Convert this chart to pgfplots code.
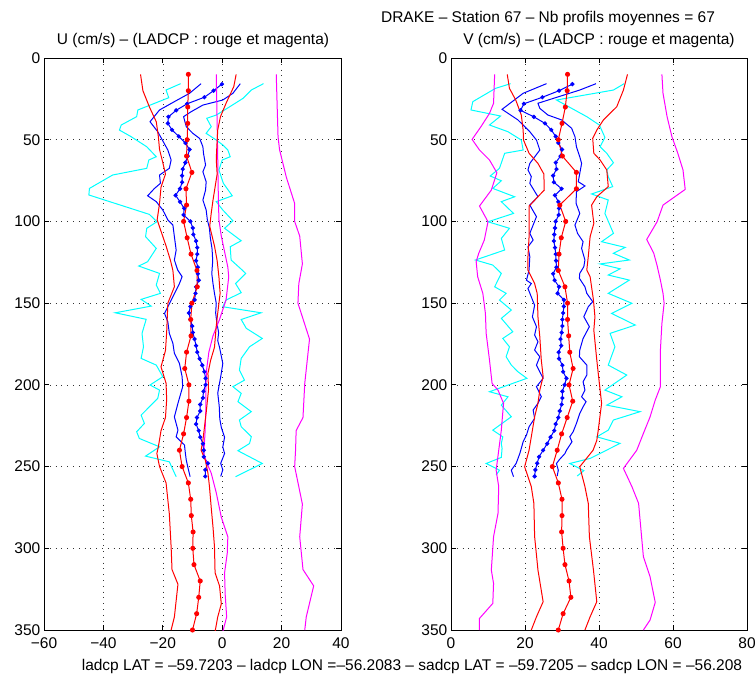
\documentclass[border=0pt]{standalone}
\usepackage{fontspec}
\setmainfont{Liberation Sans}
\usepackage{pgfplots}
\pgfplotsset{compat=1.18}
\definecolor{mred}{rgb}{1,0,0}
\definecolor{mblue}{rgb}{0,0,1}
\definecolor{mcyan}{rgb}{0,1,1}
\definecolor{mmag}{rgb}{1,0,1}
\newcommand{\fs}{\fontsize{15.5}{18}\selectfont}
\pgfplotsset{
  matlab/.style={
    scale only axis, height=572pt,
    y dir=reverse, ymin=0, ymax=350, ytick={0,50,...,350},
    grid=major,
    major grid style={black!80, line width=0.6pt, dash pattern=on 0.8pt off 5pt},
    tick align=inside, major tick length=5pt,
    xtick pos=both, ytick pos=both,
    xticklabel pos=bottom, yticklabel pos=left,
    tick style={black, line width=0.8pt},
    axis line style={black, line width=1pt},
    tick label style={font=\fs},
    yticklabel style={inner sep=0pt, xshift=-3.5pt},
    xticklabel style={inner sep=0pt, yshift=-7pt},
    /pgf/number format/assume math mode=true,
    every axis plot/.append style={line width=1pt},
    anchor=south west,
  },
  mean/.style={mark=*, mark size=2pt, mark options={solid}},
  bmean/.style={mark=*, mark size=1.6pt, mark options={solid}},
}
\begin{document}
\begin{tikzpicture}
\useasboundingbox (0,0) rectangle (755pt,681pt);
% ================= LEFT: U =================
\begin{axis}[matlab, at={(44pt,51pt)}, width=297pt,
  xmin=-60, xmax=40, xtick={-60,-40,-20,0,20,40},
  xticklabels={−60,−40,−20,0,20,40}]
% cyan
\addplot[mcyan] coordinates {(-14.0,15.7)(-18.9,19.6)(-18.0,24.3)(-28.4,31.8)(-28.8,35.9)(-34.0,41)(-34.6,44.1)(-30.7,48.1)(-25.4,54.3)(-22.2,60.4)(-24.7,62.4)(-25.4,67.5)(-36.9,71.6)(-44.7,79.8)(-44.9,83.8)(-24.5,95.7)(-22.0,100.2)(-25.4,104.2)(-25.8,109.3)(-22.2,116.5)(-25.1,124.6)(-28.1,127.3)(-21.1,131.8)(-22.2,138.9)(-20.8,144)(-27.3,147.7)(-23.9,151.8)(-36.0,155.9)(-25.6,159.9)(-27.0,168.5)(-26.5,176.7)(-27.3,183.8)(-22.2,187.9)(-20.0,195)(-24.3,200.1)(-21.1,203.2)(-21.7,208.3)(-27.3,218.5)(-26.2,223.6)(-28.8,228.7)(-27.9,232.8)(-21.1,237.9)(-25.8,243.6)(-17.8,247.1)(-15.5,256.2)};
\addplot[mcyan] coordinates {(13.9,15.7)(9.8,19.6)(7.0,24.7)(0.8,31.8)(-2.0,34.9)(-5.2,36.9)(-3.7,42)(-5.4,46.1)(-2.0,50.2)(0.2,53.2)(1.9,56.3)(2.7,60.4)(0.0,62.4)(-1.1,68.5)(0.4,76.7)(3.4,84.3)(-2.0,87.9)(0.2,93)(3.6,99.6)(0.8,104.2)(6.4,111.8)(2.7,115.5)(3.0,123.6)(6.7,129.7)(7.9,131.8)(4.5,138)(6.4,143.6)(1.3,148.1)(0.2,152.2)(13.1,155.9)(6.4,160)(8.1,165.4)(13.5,171.6)(9.2,176.7)(6.4,183.8)(5.8,191)(7.5,197.1)(3.6,201.1)(6.4,205.2)(5.3,210.3)(9.8,216.4)(5.8,221.5)(6.4,225.6)(9.8,231.7)(9.2,235.9)(5.3,240.3)(13.5,248.1)(4.5,256.2)};
% blue envelopes
\addplot[mblue] coordinates {(-7.1,15.7)(-11.0,21.6)(-16.1,26.7)(-21.1,31.8)(-24.3,39)(-21.7,45.1)(-18.3,56.3)(-17.2,62.4)(-17.8,67.5)(-21.1,71.6)(-20.8,76.7)(-22.8,79.8)(-25.1,84.3)(-22.2,87.9)(-20.0,93)(-18.3,99.1)(-16.6,102.2)(-16.1,109.3)(-15.5,117.5)(-16.1,123.6)(-15.0,129.7)(-13.5,133.8)(-14.4,138)(-16.6,146)(-19.4,156.3)(-18.3,161.4)(-17.8,168.5)(-16.6,174.6)(-16.1,180.7)(-14.4,186.9)(-13.5,195)(-13.3,201.1)(-14.9,211.3)(-16.1,219.6)(-14.9,227.7)(-15.5,231.8)(-12.7,236.8)(-12.4,241.9)(-12.1,246)(-11.6,250.1)(-10.8,256.2)};
\addplot[mblue] coordinates {(6.1,15.7)(3.6,21.6)(0.2,25.7)(-6.5,28.8)(-10.4,32.8)(-13.0,35.9)(-12.1,42)(-9.9,46.1)(-7.6,49.2)(-6.5,54.3)(-6.3,58.3)(-5.6,65.5)(-6.5,69.6)(-5.4,75.7)(-5.6,80.8)(-6.5,86.9)(-5.4,93)(-5.0,99)(-4.3,104)(-4.0,110)(-3.4,117)(-3.2,124)(-3.5,132)(-3.1,138)(-2.6,144)(-2.0,150)(-2.2,156)(-1.8,162)(-1.2,168)(-1.5,173)(-0.9,177)(0.2,187)(-0.5,195)(-1.5,205)(-1.0,213)(-0.8,221)(-0.3,226)(0.8,232)(0.2,238)(0.8,242)(-0.5,248)(0.2,252)(-0.5,256)};
% blue mean
\addplot[mblue, bmean] coordinates {(-0.1,16)(-2.9,20)(-6.0,24)(-11.8,28)(-15.5,32)(-18.1,36)(-18.3,40)(-16.9,44)(-14.6,48)(-12.4,52)(-11.0,56)(-11.6,60)(-12.4,64)(-13.3,68)(-13.5,72)(-13.5,76)(-14.2,80)(-15.7,84)(-14.2,88)(-12.8,92)(-13.0,96)(-10.7,100)(-9.9,104)(-9.7,108)(-8.8,112)(-8.4,116)(-8.4,120)(-8.8,124)(-8.2,128)(-8.2,132)(-7.9,136)(-8.8,140)(-9.0,144)(-9.3,148)(-10.7,152)(-11.2,156)(-10.7,160)(-10.1,164)(-9.9,168)(-9.3,172)(-8.8,176)(-8.4,180)(-7.6,184)(-6.7,188)(-6.0,192)(-5.6,196)(-5.6,200)(-6.3,204)(-6.5,208)(-7.4,212)(-7.4,216)(-8.5,220)(-8.8,224)(-7.9,228)(-7.4,232)(-6.5,236)(-6.2,240)(-6.2,244)(-4.8,248)(-5.7,252)(-5.7,256)};
% magenta
\addplot[mmag] coordinates {(-2.0,10)(-1.8,30)(-1.5,62)(-1.3,85)(-1.1,99)(-0.3,109)(1.9,128)(2.2,134)(1.3,148)(-0.9,160)(-3.1,170)(-4.5,180)(-5.2,190)(-5.5,200)(-5.5,215)(-5.8,230)(-6.2,242)(-5.6,246)(-3.7,254)(-2.0,266)(-0.3,281)(1.9,293)(1.7,303)(0.8,315)(1.0,328)(1.5,342)(0.2,351)};
\addplot[mmag] coordinates {(18.2,10)(18.8,48)(19.3,56)(21.6,73)(24.4,89)(24.4,100)(26.1,109)(27.0,126)(25.8,138)(25.5,150)(29.4,172)(27.8,199)(27.2,220)(24.9,228)(24.7,240)(24.4,250)(27.0,273)(26.1,293)(27.2,313)(30.8,323)(28.3,342)(27.8,350)};
% red envelopes
\addplot[mred] coordinates {(-27.5,10)(-26.7,20)(-24.5,30)(-22.2,39)(-21.5,48)(-21.1,56)(-20.0,64)(-19.1,71)(-20.6,79)(-21.1,89)(-21.9,99)(-20.6,106)(-18.9,115)(-17.4,124)(-16.6,130)(-16.1,140)(-18.3,150)(-18.7,168)(-19.1,179)(-20.6,189)(-18.9,199)(-18.7,209)(-19.1,220)(-20.6,228)(-21.5,238)(-22.0,242)(-21.1,250)(-18.9,260)(-17.8,279)(-17.2,299)(-16.9,313)(-14.9,322)(-16.1,342)(-17.2,350)};
\addplot[mred] coordinates {(4.7,10)(3.9,17.5)(1.3,27.7)(-0.6,36)(-1.5,44)(-1.8,54)(-2.0,62)(-1.7,71)(-2.4,79)(-3.1,87)(-3.7,95)(-4.2,103)(-2.6,115)(-1.7,124)(-1.1,134)(-0.7,144)(-1.5,156)(-2.0,164)(-2.6,177)(-3.9,185)(-4.8,193)(-4.6,203)(-5.4,217)(-6.5,234)(-7.1,240)(-5.7,246)(-4.8,254)(-4.3,262)(-3.7,275)(-3.1,287)(-2.6,299)(-2.4,315)(-0.9,323)(-0.3,334)(-1.5,342)(-2.4,351)};
% red mean
\addplot[mred, mean] coordinates {(-11.4,10)(-11.4,20)(-11.6,30)(-11.6,40)(-11.8,50)(-12.0,60)(-10.2,70)(-12.2,80)(-12.0,90)(-13.0,100)(-11.8,110)(-10.5,120)(-8.5,130)(-8.4,140)(-10.2,150)(-10.6,160)(-10.5,170)(-12.0,180)(-12.6,190)(-11.2,200)(-11.2,210)(-12.0,220)(-13.0,230)(-14.4,240)(-13.5,250)(-11.4,260)(-10.6,270)(-10.4,280)(-9.8,290)(-9.9,300)(-9.5,310)(-7.4,320)(-7.9,330)(-8.6,340)(-10.0,350)};
\end{axis}
% ================= RIGHT: V =================
\begin{axis}[matlab, at={(451pt,51pt)}, width=296pt,
  xmin=0, xmax=80, xtick={0,20,40,60,80}]
% cyan
\addplot[mcyan] coordinates {(16.1,15.7)(12.0,18.6)(5.9,26.7)(5.4,31.8)(13.4,35.5)(10.4,41)(15.4,45.1)(19.0,50.2)(19.5,56.3)(14.5,58.3)(13.1,67.5)(10.6,72.2)(13.6,75.1)(11.3,79.8)(17.2,84.9)(13.6,87.9)(16.9,95.1)(10.0,100.2)(15.8,104.2)(13.6,110.4)(14.5,117.5)(6.6,123.6)(11.3,126.7)(13.6,131.8)(11.8,140)(14.9,144)(13.1,148.1)(16.3,154.2)(13.6,159.3)(16.7,167.5)(14.0,171.6)(15.8,176.7)(14.9,182.8)(16.3,187.9)(18.1,192)(20.5,196)(10.4,204.2)(15.4,207.3)(13.6,212.4)(16.3,219.5)(11.3,227.7)(14.0,231.8)(13.6,235.8)(13.8,238.9)(13.6,244.4)(9.5,248.1)(13.1,252.2)(12.2,255.2)};
\addplot[mcyan] coordinates {(46.8,15.7)(43.9,19.6)(28.5,25.7)(36.7,35.9)(40.1,41)(41.6,48.6)(40.3,54.3)(42.1,58.3)(43.9,64.1)(42.1,68.5)(42.5,72.6)(43.7,78.7)(38.0,83.2)(42.5,86.9)(41.6,95.1)(43.9,107.3)(40.7,112.4)(47.1,115.9)(43.9,119.5)(48.2,123.6)(40.3,126)(45.7,129)(42.5,132.8)(48.2,135.9)(42.5,144)(48.9,150.1)(43.4,156.3)(49.8,163.4)(43.0,168.5)(44.3,176.7)(42.5,187.9)(47.5,194)(41.6,203.2)(46.2,207.3)(42.1,212.4)(51.1,216.4)(43.9,221.5)(42.5,227.7)(39.4,231.8)(45.7,235.8)(37.6,245)(32.1,248.1)(35.9,252.5)(34.1,255.8)};
% blue envelopes
\addplot[mblue] coordinates {(25.8,15.7)(19.5,21.6)(13.8,31.4)(18.1,37.9)(21.3,45.1)(23.1,50.2)(24.0,56.3)(21.3,64.5)(20.8,68.5)(21.7,72.6)(21.3,76.7)(23.5,84.9)(21.3,90)(23.1,97.1)(21.3,107.3)(22.2,111.4)(20.8,115.5)(21.3,121.6)(21.1,129.7)(20.4,136)(21.7,138)(20.8,141)(22.6,151.3)(22.0,158.4)(23.1,164.4)(22.6,169.5)(23.5,173.6)(22.6,178.7)(24.0,182.8)(23.1,187.9)(24.0,192)(24.9,196)(23.1,201.1)(24.4,207.2)(23.5,211.3)(22.2,215.4)(22.6,220.5)(21.1,225.6)(20.4,230.7)(19.5,234.8)(18.6,242)(17.6,248.1)(16.3,252.2)(16.9,256.2)};
\addplot[mblue] coordinates {(39.2,15.7)(34.8,19.6)(28.5,24.1)(23.5,27.7)(24.0,30.8)(26.2,34.9)(29.9,37.9)(32.6,43)(33.5,48.1)(33.9,54.3)(34.8,60.4)(35.3,64.5)(34.8,70.6)(34.4,75.7)(36.2,78.3)(33.9,81.8)(33.8,88.9)(34.8,95.1)(33.5,102.2)(34.2,107.3)(35.7,112.4)(35.3,116.5)(36.2,123.6)(35.9,127.7)(34.8,131.8)(34.7,134.8)(36.2,140)(36.7,144)(38.3,149.1)(37.1,152.2)(35.9,158.3)(37.4,164.4)(35.7,171.6)(34.8,178.7)(34.7,182.8)(36.7,187.9)(36.7,194)(35.7,198.1)(36.2,203.2)(35.3,207.3)(36.5,210.3)(35.7,213.4)(34.8,217.5)(33.9,223.6)(33.0,228.7)(32.1,231.8)(32.7,234.8)(31.2,240)(30.8,242)(29.2,246)(28.5,248.1)(29.0,252.2)(28.7,255.8)};
% blue mean
\addplot[mblue, bmean] coordinates {(32.8,16)(29.2,20)(24.7,24)(19.7,28)(18.8,32)(22.4,36)(25.4,40)(27.1,44)(28.3,48)(29.0,52)(30.0,56)(29.6,60)(28.3,64)(28.5,68)(27.6,72)(27.8,76)(29.9,80)(28.1,84)(29.0,88)(29.2,92)(29.1,96)(28.3,100)(28.1,104)(27.9,108)(27.8,112)(28.1,116)(28.3,120)(28.4,124)(28.5,128)(27.6,132)(28.0,136)(29.2,140)(28.8,144)(30.5,148)(30.5,152)(30.3,156)(30.1,160)(30.1,164)(29.9,168)(29.6,172)(29.8,176)(29.1,180)(29.2,184)(30.1,188)(30.3,192)(31.2,196)(30.7,200)(30.1,204)(30.1,208)(29.9,212)(29.4,216)(29.0,220)(28.3,224)(27.9,228)(26.9,232)(26.0,236)(24.9,240)(23.8,244)(23.3,248)(22.8,252)(22.6,256)};
% magenta
\addplot[mmag] coordinates {(11.8,10)(11.5,27.7)(10.4,33.9)(8.1,42)(5.7,49.8)(7.7,56.3)(10.4,62.4)(12.4,70.2)(10.9,80.8)(7.7,90.6)(10.0,100.2)(9.0,111.4)(7.5,119.5)(6.8,124.6)(7.2,133.8)(8.6,144)(9.3,156.3)(9.5,168.5)(10.4,184.8)(11.1,199.1)(12.7,203.2)(14.2,211.3)(13.6,227.7)(12.9,240)(12.2,252.2)(12.9,262.3)(12.7,278.7)(11.5,292.9)(10.9,313.3)(11.5,321.5)(11.3,333.7)(7.7,342.9)(7.7,350)};
\addplot[mmag] coordinates {(57.0,10)(57.3,21.6)(58.4,35.9)(59.7,48.1)(61.3,58.3)(62.7,68.5)(63.3,80.4)(57.3,90)(55.7,100.2)(52.9,111)(54.8,119.5)(55.7,127)(56.6,136)(57.3,144)(57.6,150.1)(57.0,162.4)(56.6,178.7)(56.6,201.1)(55.2,209.3)(53.8,219.6)(52.0,229.7)(50.2,240)(46.6,251.1)(48.9,262.3)(50.7,272.5)(51.1,282.7)(52.0,305.2)(53.8,317.4)(55.2,333.1)(53.8,343.9)(52.0,350)};
% red envelopes
\addplot[mred] coordinates {(15.2,10)(15.8,18.6)(17.5,25.7)(19.0,34.9)(19.5,44.1)(19.6,50.2)(21.1,58.3)(23.5,64.5)(25.1,71)(25.2,80.8)(21.1,90.6)(21.1,101.2)(21.1,109.3)(20.8,121.6)(20.8,129.9)(22.6,138)(23.3,144.1)(23.5,158.4)(24.0,170.6)(24.4,184.8)(24.9,195)(24.0,203.2)(23.5,211.3)(22.6,219.6)(21.7,231.8)(21.1,240)(19.9,250.1)(21.7,262.3)(22.4,272.5)(22.6,292.9)(23.5,313.3)(24.9,332.7)(23.1,341.9)(21.7,350)};
\addplot[mred] coordinates {(47.7,10)(46.6,19.6)(44.8,29.8)(41.2,37.9)(39.4,44.1)(38.3,49.2)(38.6,58.3)(40.3,62.4)(42.1,68.5)(42.5,78.7)(39.4,84.9)(38.0,90)(38.6,101.2)(37.6,109.3)(37.1,121.6)(36.7,129.7)(37.6,133.8)(38.5,148.1)(38.9,158.4)(38.6,166.5)(39.4,184.8)(40.1,199.1)(40.7,211.3)(39.8,227.7)(39.4,234)(38.4,240)(34.8,250.1)(36.2,262.3)(37.1,272.5)(37.4,292.9)(38.5,313.3)(39.4,332.7)(37.6,341.9)(36.2,350)};
% red mean
\addplot[mred, mean] coordinates {(31.5,10)(31.4,20)(30.9,30)(30.0,40)(29.0,50)(30.1,60)(33.9,70)(33.9,80)(29.4,90)(31.0,100)(29.8,110)(29.2,120)(29.0,130)(30.8,140)(31.5,150)(31.5,160)(31.8,170)(32.1,180)(33.0,190)(31.9,200)(32.9,210)(31.4,220)(29.9,230)(28.7,240)(27.4,250)(29.0,260)(30.0,270)(30.0,280)(29.9,290)(30.3,300)(30.8,310)(31.9,320)(32.4,330)(30.3,340)(29.0,350)};
\end{axis}
% ================= texts =================
\node[anchor=base, font=\fs, inner sep=0pt] at (193pt,636pt) {U (cm/s) – (LADCP : rouge et magenta)};
\node[anchor=base, font=\fs, inner sep=0pt] at (599pt,636pt) {V (cm/s) – (LADCP : rouge et magenta)};
\node[anchor=base, font=\fs, inner sep=0pt] at (548pt,658pt) {DRAKE – Station 67 – Nb profils moyennes = 67};
\node[anchor=base, font=\fs, inner sep=0pt] at (412pt,11pt) {ladcp LAT = –59.7203 – ladcp LON =–56.2083 – sadcp LAT = –59.7205 – sadcp LON = –56.208};
\end{tikzpicture}
\end{document}
